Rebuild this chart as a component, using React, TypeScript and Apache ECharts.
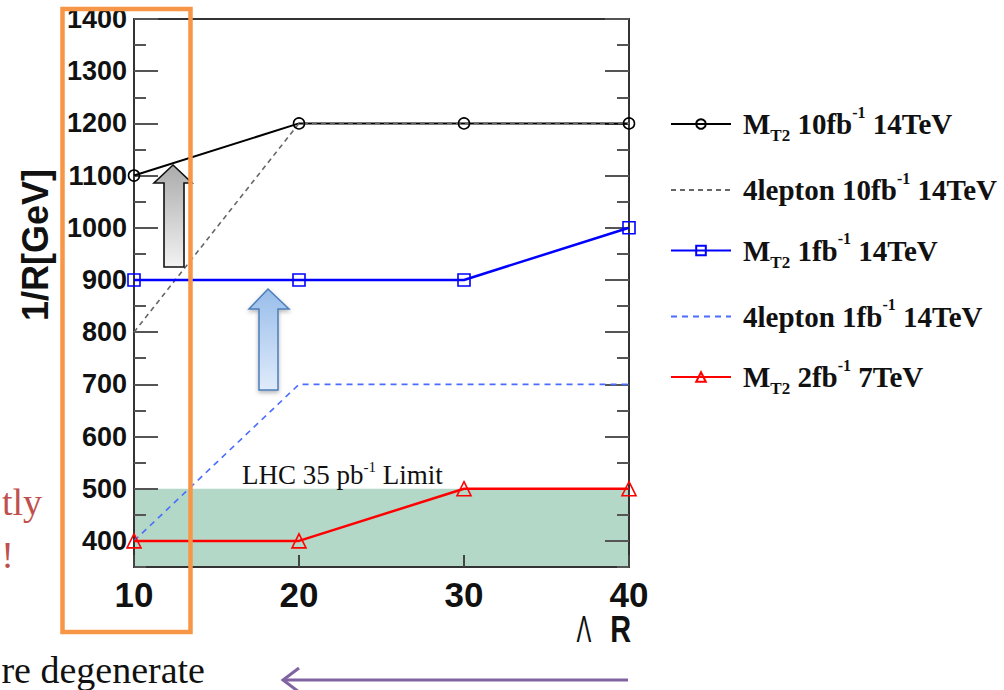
import React, { useEffect, useRef } from "react";
import * as echarts from "echarts";

// ---- data ----
const xValues = [10, 20, 30, 40];
const mt2_10fb_14tev = [1100, 1200, 1200, 1200];
const lep4_10fb_14tev = [800, 1200, 1200, 1200];
const mt2_1fb_14tev = [900, 900, 900, 1000];
const lep4_1fb_14tev = [400, 700, 700, 700];
const mt2_2fb_7tev = [400, 400, 500, 500];
const lhcLimit = 500;
const yMin = 350;
const yMax = 1400;
const xMin = 10;
const xMax = 40;

const seriesNames = [
  "MT2 10fb-1 14TeV",
  "4lepton 10fb-1 14TeV",
  "MT2 1fb-1 14TeV",
  "4lepton 1fb-1 14TeV",
  "MT2 2fb-1 7TeV",
];
const legendLabels = [
  "{t|M}{sub|T2}{sp| }{t|10fb}{sup|-1}{sp| }{t|14TeV}",
  "{t|4lepton 10fb}{sup|-1}{sp| }{t|14TeV}",
  "{t|M}{sub|T2}{sp| }{t|1fb}{sup|-1}{sp| }{t|14TeV}",
  "{t|4lepton 1fb}{sup|-1}{sp| }{t|14TeV}",
  "{t|M}{sub|T2}{sp| }{t|2fb}{sup|-1}{sp| }{t|7TeV}",
];
const dashedSeries = [false, true, false, true, false];
const limitLabel = "{a|LHC 35 pb}{s|-1}{sp| }{a|Limit}";

const serif = '"Liberation Serif", "Times New Roman", serif';
const sans = '"Liberation Sans", Arial, sans-serif';

const pairs = (ys: number[]) => xValues.map((x, i) => [x, ys[i]]);

export default function App() {
  const ref = useRef<HTMLDivElement>(null);

  useEffect(() => {
    if (!ref.current) return;
    const chart = echarts.init(ref.current, undefined, { renderer: "svg" });

    const gridTop = 19;
    const gridH = 548;
    const gridLeft = 134;
    const gridW = 495;

    const hollow = (c: string) => ({ color: "rgba(255,255,255,0)", borderColor: c, borderWidth: 1.6 });

    const option: any = {
      animation: false,
      backgroundColor: "#ffffff",
      grid: [
        { left: gridLeft, top: gridTop, width: gridW, height: gridH, show: true, borderColor: "#333", borderWidth: 2, z: 3, backgroundColor: "transparent" },
        { left: gridLeft, top: gridTop, width: gridW, height: (gridH * (yMax - 400)) / (yMax - yMin), show: false },
      ],
      xAxis: [
        {
          type: "value", gridIndex: 0, min: xMin, max: xMax, interval: 10, z: 3,
          axisLine: { show: false }, splitLine: { show: false },
          axisTick: { inside: true, length: 12, lineStyle: { color: "#444", width: 2 } },
          axisLabel: { fontFamily: sans, fontWeight: "bold", fontSize: 35, lineHeight: 40, color: "#111", margin: 7 },
        },
        { type: "value", gridIndex: 1, min: xMin, max: xMax, show: false },
      ],
      yAxis: [
        {
          type: "value", gridIndex: 0, position: "left", min: yMin, max: yMax, interval: 50, z: 3,
          axisLine: { show: false }, splitLine: { show: false },
          axisTick: { inside: true, length: 12, lineStyle: { color: "#555", width: 2 } },
          axisLabel: {
            formatter: (v: number) => (v % 100 === 0 ? String(v) : ""),
            fontFamily: sans, fontWeight: "bold", fontSize: 27, color: "#111", margin: 7,
          },
        },
        {
          type: "value", gridIndex: 0, position: "right", min: yMin, max: yMax, interval: 50, z: 3,
          axisLine: { show: false }, splitLine: { show: false },
          axisTick: { inside: true, length: 12, lineStyle: { color: "#555", width: 2 } },
          axisLabel: { show: false },
        },
        {
          type: "value", gridIndex: 1, position: "left", min: 400, max: yMax, interval: 100, z: 3,
          axisLine: { show: false }, splitLine: { show: false },
          axisTick: { inside: true, length: 24, lineStyle: { color: "#555", width: 2 } },
          axisLabel: { show: false },
        },
        {
          type: "value", gridIndex: 1, position: "right", min: 400, max: yMax, interval: 100, z: 3,
          axisLine: { show: false }, splitLine: { show: false },
          axisTick: { inside: true, length: 24, lineStyle: { color: "#555", width: 2 } },
          axisLabel: { show: false },
        },
      ],
      legend: {
        orient: "vertical", left: 670, top: 104, padding: 0, itemWidth: 60, itemHeight: 12, itemGap: 26,
        selectedMode: false,
        data: seriesNames.map((n, i) => (dashedSeries[i] ? { name: n, itemStyle: { opacity: 0 } } : { name: n })),
        formatter: (name: string) => legendLabels[seriesNames.indexOf(name)],
        textStyle: {
          padding: [0, 0, 0, 7],
          rich: {
            t: { fontFamily: serif, fontWeight: "bold", fontSize: 29, lineHeight: 40, color: "#111" },
            sp: { fontFamily: serif, fontWeight: "bold", fontSize: 29, lineHeight: 40, color: "#111" },
            sub: { fontFamily: serif, fontWeight: "bold", fontSize: 17, lineHeight: 16, verticalAlign: "bottom", color: "#111" },
            sup: { fontFamily: serif, fontWeight: "bold", fontSize: 16, lineHeight: 30, verticalAlign: "top", color: "#111" },
          },
        },
      },
      series: [
        {
          name: seriesNames[0], type: "line", xAxisIndex: 0, yAxisIndex: 0, data: pairs(mt2_10fb_14tev),
          symbol: "circle", symbolSize: 11, lineStyle: { color: "#000", width: 2 }, itemStyle: hollow("#000"),
          markArea: {
            silent: true,
            itemStyle: { color: "#b4d8c7" },
            label: {
              show: true, position: [108, -29], formatter: limitLabel,
              rich: {
                a: { fontFamily: serif, fontSize: 27, lineHeight: 30, color: "#111" },
                sp: { fontFamily: serif, fontSize: 27, lineHeight: 30, color: "#111" },
                s: { fontFamily: serif, fontSize: 15, lineHeight: 22, verticalAlign: "top", color: "#111" },
              },
            },
            data: [[{ coord: [xMin, yMin] }, { coord: [xMax, lhcLimit] }]],
          },
        },
        {
          name: seriesNames[1], type: "line", xAxisIndex: 0, yAxisIndex: 0, data: pairs(lep4_10fb_14tev),
          symbol: "none", lineStyle: { color: "#666", width: 1.6, type: [5, 4] }, itemStyle: { color: "#666" },
        },
        {
          name: seriesNames[2], type: "line", xAxisIndex: 0, yAxisIndex: 0, data: pairs(mt2_1fb_14tev),
          symbol: "rect", symbolSize: 12, lineStyle: { color: "#0000ff", width: 2.5 }, itemStyle: hollow("#0000ff"),
        },
        {
          name: seriesNames[3], type: "line", xAxisIndex: 0, yAxisIndex: 0, data: pairs(lep4_1fb_14tev),
          symbol: "none", lineStyle: { color: "#4a6cff", width: 1.6, type: [6, 5] }, itemStyle: { color: "#4a6cff" },
        },
        {
          name: seriesNames[4], type: "line", xAxisIndex: 0, yAxisIndex: 0, data: pairs(mt2_2fb_7tev),
          symbol: "triangle", symbolSize: 14, lineStyle: { color: "#ff0000", width: 2.5 }, itemStyle: hollow("#ff0000"),
        },
      ],
      graphic: [
        {
          type: "text", x: 35, y: 245, rotation: Math.PI / 2, z: 10,
          style: { text: "1/R[GeV]", fontFamily: sans, fontWeight: "bold", fontSize: 36, fill: "#111", textAlign: "center", textVerticalAlign: "middle" },
        },
        {
          type: "text", x: 584, y: 629, z: 10, scaleX: 0.6,
          style: { text: "Λ", fontFamily: sans, fontSize: 37, fill: "#111", textAlign: "center", textVerticalAlign: "middle" },
        },
        {
          type: "text", x: 631, y: 629, z: 10, scaleX: 0.78,
          style: { text: "R", fontFamily: sans, fontWeight: "bold", fontSize: 37, fill: "#111", textAlign: "right", textVerticalAlign: "middle" },
        },
        {
          type: "polygon", z: 10,
          shape: { points: [[173, 165], [192, 183], [184, 183], [184, 267], [164, 267], [164, 183], [154, 183]] },
          style: {
            fill: { type: "linear", x: 0, y: 0, x2: 0, y2: 1, colorStops: [{ offset: 0, color: "#ababab" }, { offset: 1, color: "#f2f2f2" }] },
            stroke: "#111", lineWidth: 1.6,
          },
        },
        {
          type: "polygon", z: 10,
          shape: { points: [[268, 289], [289, 309], [278, 309], [278, 390], [259, 390], [259, 309], [249, 309]] },
          style: {
            fill: { type: "linear", x: 0, y: 0, x2: 0, y2: 1, colorStops: [{ offset: 0, color: "#98bdea" }, { offset: 1, color: "#e0ebfa" }] },
            stroke: "#4a7ebb", lineWidth: 1.5, shadowBlur: 4, shadowColor: "rgba(0,0,0,0.3)", shadowOffsetY: 2,
          },
        },
        {
          type: "rect", z: 20, shape: { x: 62.5, y: 9, width: 128, height: 623 },
          style: { fill: "none", stroke: "#f79646", lineWidth: 4.5 },
        },
        {
          type: "text", x: 42, y: 502, z: 10,
          style: { text: "tly", fontFamily: serif, fontSize: 38, fill: "#c0504d", textAlign: "right", textVerticalAlign: "middle" },
        },
        {
          type: "text", x: 14, y: 555, z: 10,
          style: { text: "!", fontFamily: serif, fontSize: 38, fill: "#c0504d", textAlign: "right", textVerticalAlign: "middle" },
        },
        {
          type: "text", x: 205, y: 670, z: 10,
          style: { text: "re degenerate", fontFamily: serif, fontSize: 38, fill: "#111", textAlign: "right", textVerticalAlign: "middle" },
        },
        {
          type: "polyline", z: 10, shape: { points: [[628, 680], [284, 680]] },
          style: { stroke: "#8064a2", lineWidth: 3, fill: "none" },
        },
        {
          type: "polyline", z: 10, shape: { points: [[299, 668], [283, 680], [299, 692]] },
          style: { stroke: "#8064a2", lineWidth: 3, fill: "none" },
        },
      ],
    };

    chart.setOption(option);
    return () => chart.dispose();
  }, []);

  return <div ref={ref} style={{ position: "fixed", left: 0, top: 0, width: 1004, height: 690 }} />;
}
